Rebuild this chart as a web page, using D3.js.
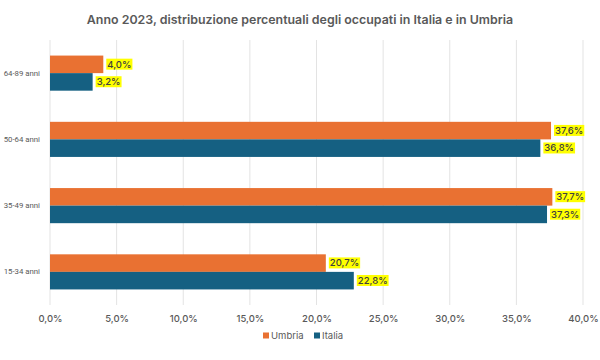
<!DOCTYPE html>
<html>
<head>
<meta charset="utf-8">
<script src="https://cdn.jsdelivr.net/npm/d3@7"></script>
<style>
  html, body { margin: 0; padding: 0; background: #fff; }
  svg { display: block; font-family: Inter, Roboto, "Noto Sans", sans-serif; }
</style>
</head>
<body>
<svg id="chart" width="600" height="360"></svg>
<script>
const categories = ["64-89 anni", "50-64 anni", "35-49 anni", "15-34 anni"];
const seriesNames = ["Umbria", "Italia"];
const umbria = [4.0, 37.6, 37.7, 20.7];
const italia = [3.2, 36.8, 37.3, 22.8];
const tickValues = [0, 5, 10, 15, 20, 25, 30, 35, 40];
const title = "Anno 2023, distribuzione percentuali degli occupati in Italia e in Umbria";
const colors = ["#E97132", "#156082"];

const svg = d3.select("#chart");
const margin = { left: 50, right: 17, top: 40, bottom: 55 };
const W = 600, H = 360;

const x = d3.scaleLinear().domain([0, 40]).range([margin.left, W - margin.right]);
const y = d3.scaleBand().domain(categories).range([margin.top, H - margin.bottom]).paddingInner(0.47).paddingOuter(0.235);
const ySub = d3.scaleBand().domain(seriesNames).range([0, y.bandwidth()]);

const fmt = v => v.toFixed(1).replace(".", ",") + "%";

// title
svg.append("text")
  .attr("x", 300).attr("y", 24)
  .attr("text-anchor", "middle")
  .attr("font-size", 12.4).attr("font-weight", 600)
  .attr("fill", "#595959")
  .text(title);

// gridlines
svg.append("g").selectAll("line").data(tickValues).join("line")
  .attr("x1", d => x(d)).attr("x2", d => x(d))
  .attr("y1", margin.top).attr("y2", H - margin.bottom)
  .attr("stroke", "#e3e3e3").attr("stroke-width", 1);

// x axis
const xAxis = d3.axisBottom(x).tickValues(tickValues).tickFormat(fmt).tickSize(0).tickPadding(10);
const gx = svg.append("g").attr("transform", `translate(0,${H - margin.bottom})`).call(xAxis);
gx.select(".domain").remove();
gx.selectAll("text").attr("font-size", 9.5).attr("font-weight", 500).attr("fill", "#595959").attr("font-family", "Inter, Roboto, sans-serif");

// y axis
const yAxis = d3.axisLeft(y).tickSize(0).tickPadding(10);
const gy = svg.append("g").attr("transform", `translate(${margin.left},0)`).call(yAxis);
gy.select(".domain").remove();
gy.selectAll("text").attr("font-size", 7.8).attr("fill", "#595959").attr("font-family", "Roboto, Inter, sans-serif");

// bars
const seriesData = [umbria, italia];
seriesData.forEach((vals, si) => {
  const g = svg.append("g");
  g.selectAll("rect").data(categories).join("rect")
    .attr("x", x(0))
    .attr("y", c => y(c) + ySub(seriesNames[si]))
    .attr("width", (c, i) => x(vals[i]) - x(0))
    .attr("height", ySub.bandwidth())
    .attr("fill", colors[si]);

  const lbl = g.selectAll("g.lbl").data(categories).join("g").attr("class", "lbl")
    .attr("transform", (c, i) => `translate(${x(vals[i]) + 3},${y(c) + ySub(seriesNames[si]) + ySub.bandwidth() / 2})`);
  lbl.append("text")
    .attr("x", 1).attr("dy", "0.35em")
    .attr("font-size", 9.5).attr("font-weight", 500)
    .attr("fill", "#404040")
    .text((c, i) => fmt(vals[i]));
  lbl.each(function () {
    const node = d3.select(this).select("text").node();
    const bb = node.getBBox();
    d3.select(this).insert("rect", "text")
      .attr("x", bb.x - 1).attr("y", bb.y)
      .attr("width", bb.width + 2).attr("height", bb.height)
      .attr("fill", "#FFFF00");
  });
});

// legend
const legend = svg.append("g").attr("transform", "translate(0,336)");
const legendItems = [{ name: "Umbria", x: 263 }, { name: "Italia", x: 314 }];
legendItems.forEach((it, i) => {
  legend.append("rect").attr("x", it.x).attr("y", -3.5).attr("width", 6).attr("height", 6).attr("fill", colors[i]);
  legend.append("text").attr("x", it.x + 8).attr("dy", "0.35em")
    .attr("font-size", 9.5).attr("fill", "#595959").text(it.name);
});
</script>
</body>
</html>
